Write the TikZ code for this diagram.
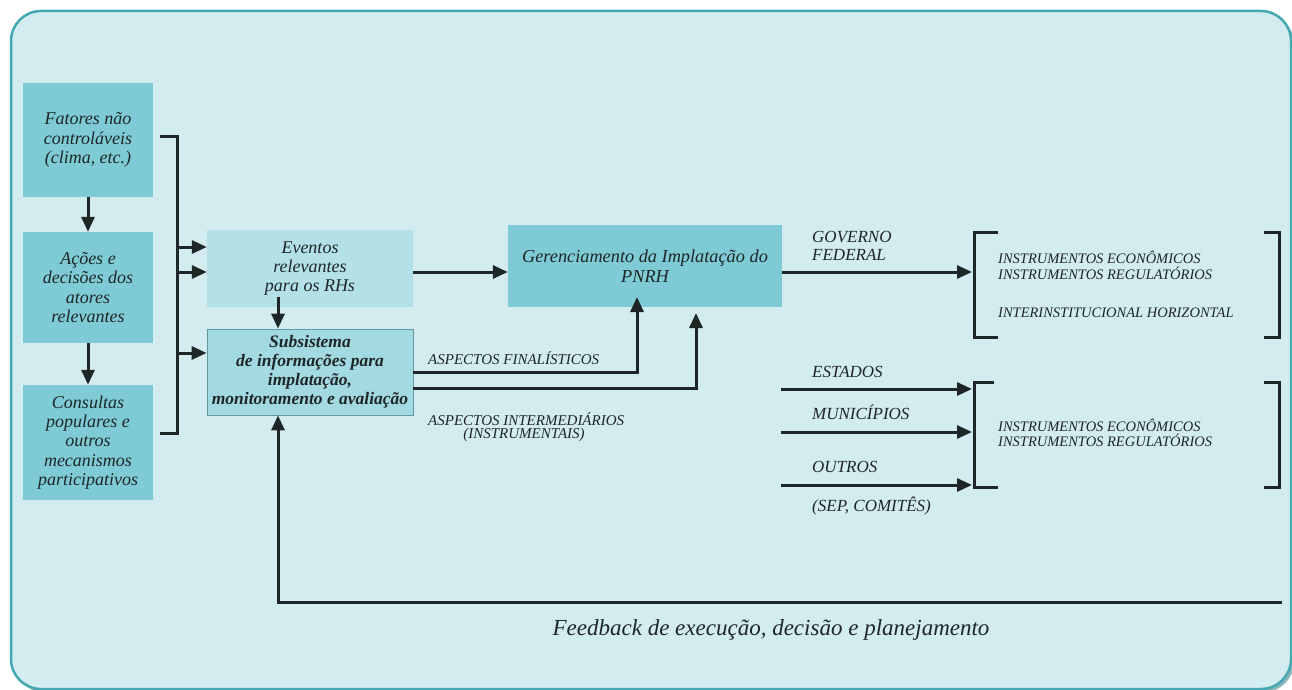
\documentclass[tikz,border=0pt]{standalone}
\usepackage{fontspec}
\setmainfont{Liberation Serif}
\usetikzlibrary{arrows.meta}
\definecolor{bgc}{HTML}{D3ECF0}
\definecolor{framec}{HTML}{45A7B2}
\definecolor{boxc}{HTML}{7ECBD5}
\definecolor{evc}{HTML}{B4E1E8}
\definecolor{subc}{HTML}{A3D9E1}
\definecolor{subb}{HTML}{5E9AA0}
\definecolor{ink}{HTML}{1E2628}
\tikzset{
  boxtext/.style={font=\fontsize{18}{19.2}\selectfont\itshape, text=ink, align=center, inner sep=0pt},
  tealbox/.style={boxtext, fill=boxc, minimum width=130pt},
  arr/.style={draw=ink, line width=3pt, -{Triangle[length=15pt,width=13pt]}},
  ln/.style={draw=ink, line width=3pt},
  caplabel/.style={font=\fontsize{15}{16}\selectfont\itshape, text=ink, inner sep=0pt, anchor=west},
  instr/.style={font=\fontsize{14.5}{16}\selectfont\itshape, text=ink, inner sep=0pt, anchor=west, align=left},
  actor/.style={font=\fontsize{17}{17}\selectfont\itshape, text=ink, inner sep=0pt, anchor=west},
}
\begin{document}
\begin{tikzpicture}[x=1pt,y=-1pt]
\useasboundingbox (0,0) rectangle (1292,690);
\begin{scope}
\clip (0,0) rectangle (1292,690);
\fill[rounded corners=30pt, framec!80!black, opacity=0.6] (14,14) rectangle (1294,692);
\end{scope}
\draw[rounded corners=30pt, line width=2.5pt, draw=framec, fill=bgc] (11,11) rectangle (1291,689);

% left boxes
\node[tealbox, minimum height=114pt] (b1) at (88,140) {Fatores não\\controláveis\\(clima, etc.)};
\node[tealbox, minimum height=111pt] (b2) at (88,287.5) {Ações e\\decisões dos\\atores\\relevantes};
\node[tealbox, minimum height=115pt] (b3) at (88,442.5) {Consultas\\populares e\\outros\\mecanismos\\participativos};
\draw[arr] (b1.south) -- (b2.north);
\draw[arr] (b2.south) -- (b3.north);

% middle boxes
\node[boxtext, fill=evc, minimum width=206pt, minimum height=77pt] (ev) at (310,268.5) {Eventos\\relevantes\\para os RHs};
\node[boxtext, fill=subc, draw=subb, line width=0.8pt, minimum width=206pt, minimum height=86pt, font=\fontsize{17.5}{19}\selectfont\bfseries\itshape] (sub) at (310,372) {Subsistema\\de informações para\\implatação,\\monitoramento e avaliação};
\node[boxtext, fill=boxc, minimum width=274pt, minimum height=82pt, font=\fontsize{18.3}{19.5}\selectfont\itshape] (ger) at (645,266) {Gerenciamento da Implatação do\\PNRH};

% bracket
\coordinate (brT) at (177,136);
\coordinate (brB) at (177,433);
\draw[ln] (160,136) -- (brT) -- (brB) -- (160,433);
\coordinate (e1) at (177,247);
\coordinate (e2) at (177,272);
\coordinate (e3) at (177,353);
\draw[arr] (e1) -- (e1 -| ev.west);
\draw[arr] (e2) -- (e2 -| ev.west);
\draw[arr] (e3) -- (e3 -| sub.west);

% eventos to subsystem and ger
\coordinate (evd) at (278,297);
\draw[arr] (evd) -- (evd |- sub.north);
\coordinate (evr) at (413,272);
\draw[arr] (evr -| ev.east) -- (evr -| ger.west);

% aspects
\coordinate (af) at (637,372);
\coordinate (ai) at (696,388);
\draw[arr] (af -| sub.east) -- (af) -- (637,297);
\draw[arr] (ai -| sub.east) -- (ai) -- (696,313);
\node[caplabel] (lf) at (428,358) {ASPECTOS FINALÍSTICOS};
\node[caplabel] (li) at (428,419) {ASPECTOS INTERMEDIÁRIOS};
\node[font=\fontsize{15}{16}\selectfont\itshape, text=ink, inner sep=0pt] (li2) at (524,435) {(INSTRUMENTAIS)};

% right side upper
\coordinate (gf) at (972,272);
\draw[arr] (ger.east |- gf) -- (gf);
\node[actor] (gov) at (812,237) {GOVERNO};
\node[actor] (fed) at (812,255) {FEDERAL};
\draw[ln] (998,232) -- (974,232) -- (974,337) -- (998,337);
\draw[ln] (1264,232) -- (1279,232) -- (1279,337) -- (1264,337);
\node[instr] (i1) at (998,257) {INSTRUMENTOS ECONÔMICOS};
\node[instr] (i2) at (998,273) {INSTRUMENTOS REGULATÓRIOS};
\node[instr] (i3) at (998,313) {INTERINSTITUCIONAL HORIZONTAL};

% right side lower
\coordinate (s1) at (781,389);
\coordinate (s2) at (781,432);
\coordinate (s3) at (781,485);
\draw[arr] (s1) -- (972,389);
\draw[arr] (s2) -- (972,432);
\draw[arr] (s3) -- (972,485);
\node[actor] (est) at (812,372) {ESTADOS};
\node[actor] (mun) at (812,412) {MUNICÍPIOS};
\node[actor] (out) at (812,467) {OUTROS};
\node[actor] (sep) at (812,506) {(SEP, COMITÊS)};
\draw[ln] (994,382) -- (974,382) -- (974,487) -- (998,487);
\draw[ln] (1264,382) -- (1279,382) -- (1279,487) -- (1264,487);
\node[instr] (i4) at (998,425) {INSTRUMENTOS ECONÔMICOS};
\node[instr] (i5) at (998,440) {INSTRUMENTOS REGULATÓRIOS};

% feedback
\coordinate (fbR) at (1282,602);
\coordinate (fbL) at (278,602);
\draw[arr] (fbR) -- (fbL) -- (fbL |- sub.south);
\node[font=\fontsize{23}{24}\selectfont\itshape, text=ink, inner sep=0pt] (fb) at (771,630) {Feedback de execução, decisão e planejamento};
\end{tikzpicture}
\end{document}
